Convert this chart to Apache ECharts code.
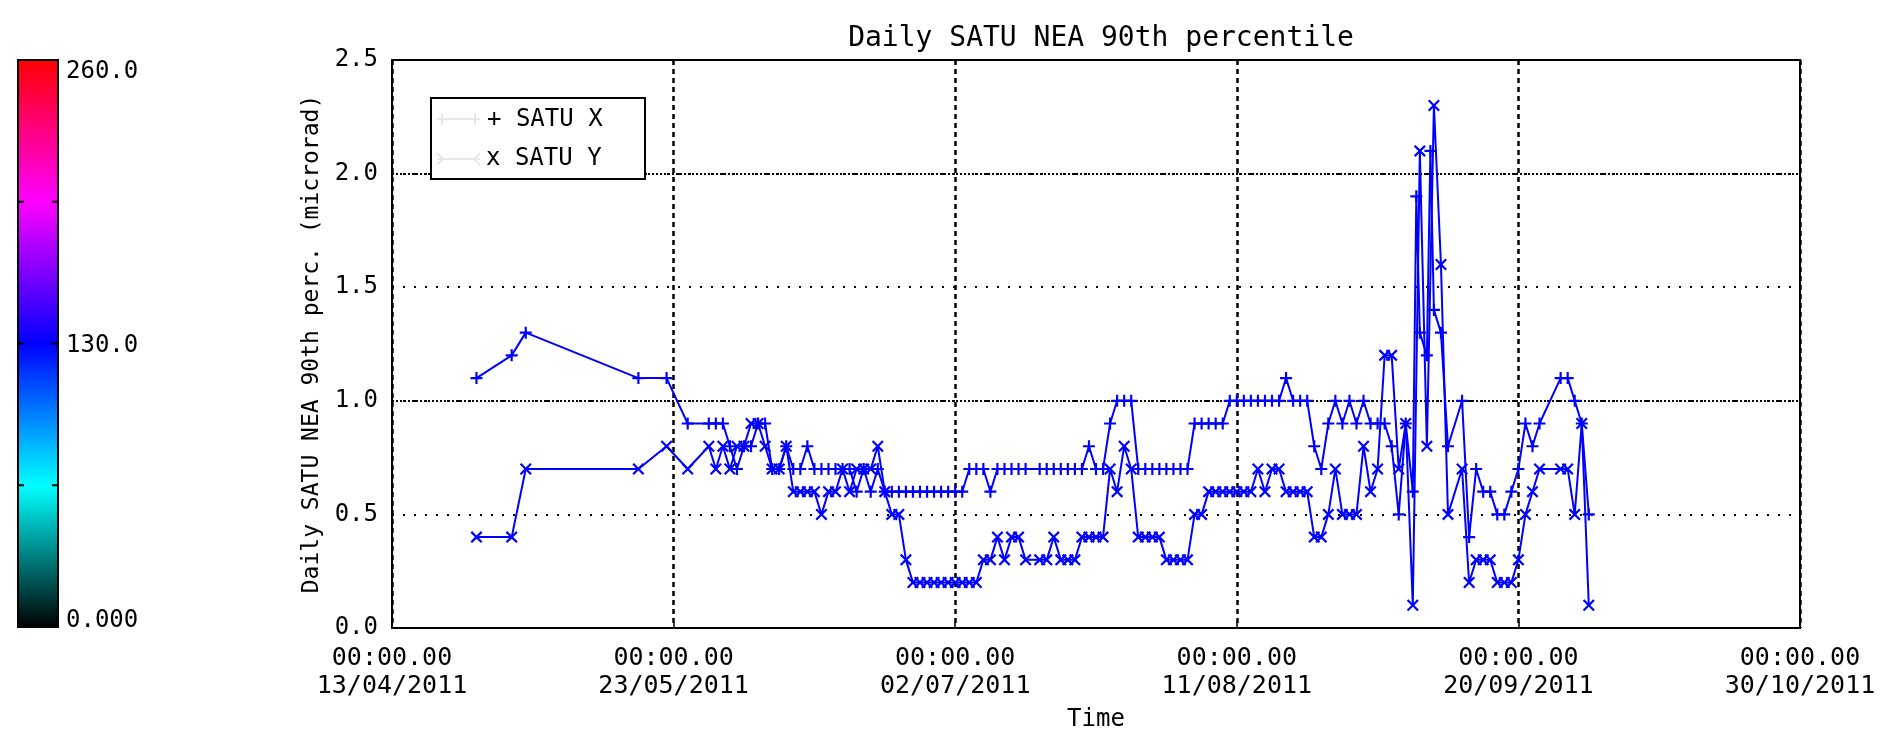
<!DOCTYPE html>
<html>
<head>
<meta charset="utf-8">
<title>Daily SATU NEA 90th percentile</title>
<script src="https://cdn.jsdelivr.net/npm/echarts@6/dist/echarts.min.js"></script>
<style>
  html, body { margin: 0; padding: 0; background: #ffffff; }
  #chart { width: 1891px; height: 738px; }
</style>
</head>
<body>
<div id="chart"></div>
<script>
// Sample dates (UTC). Half-day entries carry an explicit time.
const dates = [
  '2011-04-25', '2011-04-30',
  '2011-05-02', '2011-05-18', '2011-05-22', '2011-05-25', '2011-05-28', '2011-05-29', '2011-05-30', '2011-05-31',
  '2011-06-01', '2011-06-02', '2011-06-03', '2011-06-04', '2011-06-05', '2011-06-06', '2011-06-07', '2011-06-08',
  '2011-06-09', '2011-06-10', '2011-06-11', '2011-06-12', '2011-06-13', '2011-06-14', '2011-06-15', '2011-06-16',
  '2011-06-17', '2011-06-18', '2011-06-19', '2011-06-20', '2011-06-21', '2011-06-22', '2011-06-23', '2011-06-24',
  '2011-06-25', '2011-06-26', '2011-06-27', '2011-06-28', '2011-06-29', '2011-06-30',
  '2011-07-01', '2011-07-02', '2011-07-03', '2011-07-04', '2011-07-05', '2011-07-06', '2011-07-07', '2011-07-08',
  '2011-07-09', '2011-07-10', '2011-07-11', '2011-07-12', '2011-07-14', '2011-07-15', '2011-07-16', '2011-07-17',
  '2011-07-18', '2011-07-19', '2011-07-20', '2011-07-21', '2011-07-22', '2011-07-23', '2011-07-24', '2011-07-25',
  '2011-07-26', '2011-07-27', '2011-07-28', '2011-07-29', '2011-07-30', '2011-07-31',
  '2011-08-01', '2011-08-02', '2011-08-03', '2011-08-04', '2011-08-05', '2011-08-06', '2011-08-07', '2011-08-08',
  '2011-08-09', '2011-08-10', '2011-08-11', '2011-08-12', '2011-08-13', '2011-08-14', '2011-08-15', '2011-08-16',
  '2011-08-17', '2011-08-18', '2011-08-19', '2011-08-20', '2011-08-21', '2011-08-22', '2011-08-23', '2011-08-24',
  '2011-08-25', '2011-08-26', '2011-08-27', '2011-08-28', '2011-08-29', '2011-08-30', '2011-08-31',
  '2011-09-01', '2011-09-02', '2011-09-03', '2011-09-04', '2011-09-05', '2011-09-05T12:00:00Z', '2011-09-06',
  '2011-09-07', '2011-09-07T12:00:00Z', '2011-09-08', '2011-09-09', '2011-09-10', '2011-09-12', '2011-09-13',
  '2011-09-14', '2011-09-15', '2011-09-16', '2011-09-17', '2011-09-18', '2011-09-19', '2011-09-20', '2011-09-21',
  '2011-09-22', '2011-09-23', '2011-09-26', '2011-09-27', '2011-09-28', '2011-09-29', '2011-09-30'
];

// Daily 90th percentile of NEA, SATU X axis (microrad)
const satuX = [
  1.1, 1.2,
  1.3, 1.1, 1.1, 0.9, 0.9, 0.9, 0.9, 0.8,
  0.7, 0.8, 0.8, 0.9, 0.9, 0.7, 0.7, 0.8,
  0.7, 0.7, 0.8, 0.7, 0.7, 0.7, 0.7, 0.7,
  0.7, 0.6, 0.7, 0.6, 0.7, 0.6, 0.6, 0.6,
  0.6, 0.6, 0.6, 0.6, 0.6, 0.6,
  0.6, 0.6, 0.6, 0.7, 0.7, 0.7, 0.6, 0.7,
  0.7, 0.7, 0.7, 0.7, 0.7, 0.7, 0.7, 0.7,
  0.7, 0.7, 0.7, 0.8, 0.7, 0.7, 0.9, 1.0,
  1.0, 1.0, 0.7, 0.7, 0.7, 0.7,
  0.7, 0.7, 0.7, 0.7, 0.9, 0.9, 0.9, 0.9,
  0.9, 1.0, 1.0, 1.0, 1.0, 1.0, 1.0, 1.0,
  1.0, 1.1, 1.0, 1.0, 1.0, 0.8, 0.7, 0.9,
  1.0, 0.9, 1.0, 0.9, 1.0, 0.9, 0.9,
  0.9, 0.8, 0.5, 0.9, 0.6, 1.9, 1.3,
  1.2, 2.1, 1.4, 1.3, 0.8, 1.0, 0.4,
  0.7, 0.6, 0.6, 0.5, 0.5, 0.6, 0.7, 0.9,
  0.8, 0.9, 1.1, 1.1, 1.0, 0.9, 0.5
];

// Daily 90th percentile of NEA, SATU Y axis (microrad)
const satuY = [
  0.4, 0.4,
  0.7, 0.7, 0.8, 0.7, 0.8, 0.7, 0.8, 0.7,
  0.8, 0.8, 0.9, 0.9, 0.8, 0.7, 0.7, 0.8,
  0.6, 0.6, 0.6, 0.6, 0.5, 0.6, 0.6, 0.7,
  0.6, 0.7, 0.7, 0.7, 0.8, 0.6, 0.5, 0.5,
  0.3, 0.2, 0.2, 0.2, 0.2, 0.2,
  0.2, 0.2, 0.2, 0.2, 0.2, 0.3, 0.3, 0.4,
  0.3, 0.4, 0.4, 0.3, 0.3, 0.3, 0.4, 0.3,
  0.3, 0.3, 0.4, 0.4, 0.4, 0.4, 0.7, 0.6,
  0.8, 0.7, 0.4, 0.4, 0.4, 0.4,
  0.3, 0.3, 0.3, 0.3, 0.5, 0.5, 0.6, 0.6,
  0.6, 0.6, 0.6, 0.6, 0.6, 0.7, 0.6, 0.7,
  0.7, 0.6, 0.6, 0.6, 0.6, 0.4, 0.4, 0.5,
  0.7, 0.5, 0.5, 0.5, 0.8, 0.6, 0.7,
  1.2, 1.2, 0.7, 0.9, 0.1, null, 2.1,
  0.8, null, 2.3, 1.6, 0.5, 0.7, 0.2,
  0.3, 0.3, 0.3, 0.2, 0.2, 0.2, 0.3, 0.5,
  0.6, 0.7, 0.7, 0.7, 0.5, 0.9, 0.1
];

const seriesNames = ['SATU X', 'SATU Y'];
const axisStart = '2011-04-13';
const axisEnd = '2011-10-30';
const colorbarValues = [260, 130, 0];
const colorbarLabels = ['260.0', '130.0', '0.000'];

const FONT = '"DejaVu Sans Mono", "Liberation Mono", monospace';
const BLUE = '#0000ff';
const DAY_MS = 86400000;

function toUTC(s) { return Date.parse(s.length === 10 ? s + 'T00:00:00Z' : s); }
function dayOffset(s) { return (toUTC(s) - toUTC(axisStart)) / DAY_MS; }
function fmtDate(offset) {
  const d = new Date(toUTC(axisStart) + offset * DAY_MS);
  const p = n => String(n).padStart(2, '0');
  return p(d.getUTCDate()) + '/' + p(d.getUTCMonth() + 1) + '/' + d.getUTCFullYear();
}
function points(values) {
  return dates.map((s, i) => [dayOffset(s), values[i]]).filter(p => p[1] !== null);
}

// plotting symbols: "+" and "x" as filled outlines
const PLUS = 'path://M4.1,0H5.9V4.1H10V5.9H5.9V10H4.1V5.9H0V4.1H4.1Z';
const CROSS = 'path://M0,1.3L1.3,0L5,3.7L8.7,0L10,1.3L6.3,5L10,8.7L8.7,10L5,6.3L1.3,10L0,8.7L3.7,5Z';

// colour bar geometry
const cb = { x: 18, y: 60, w: 40, h: 567 };
const cbMax = colorbarValues[0];

const colorbarGraphics = [
  {
    type: 'rect',
    shape: { x: cb.x, y: cb.y, width: cb.w, height: cb.h },
    style: {
      fill: {
        type: 'linear', x: 0, y: 1, x2: 0, y2: 0,
        colorStops: [
          { offset: 0, color: '#000000' },
          { offset: 0.25, color: '#00ffff' },
          { offset: 0.5, color: '#0000ff' },
          { offset: 0.75, color: '#ff00ff' },
          { offset: 1, color: '#ff0000' }
        ]
      },
      stroke: '#000000',
      lineWidth: 2
    }
  }
];
[0.25, 0.5, 0.75].forEach(f => {
  const y = cb.y + cb.h * (1 - f);
  colorbarGraphics.push({ type: 'line', shape: { x1: cb.x, y1: y, x2: cb.x + 6, y2: y }, style: { stroke: '#000', lineWidth: 2 } });
  colorbarGraphics.push({ type: 'line', shape: { x1: cb.x + cb.w - 6, y1: y, x2: cb.x + cb.w, y2: y }, style: { stroke: '#000', lineWidth: 2 } });
});
colorbarValues.forEach((v, i) => {
  const f = v / cbMax;
  // end labels sit just inside the bar ends
  const shift = f === 1 ? 12 : (f === 0 ? -6 : 2);
  colorbarGraphics.push({
    type: 'text',
    style: {
      text: colorbarLabels[i],
      x: cb.x + cb.w + 8,
      y: cb.y + cb.h * (1 - f) + shift,
      align: 'left',
      verticalAlign: 'middle',
      font: '24px ' + FONT,
      fill: '#000'
    }
  });
});

// legend box
const lg = { x: 431, y: 98, w: 214, h: 81 };
const legendGraphics = [
  { type: 'rect', z: 100, shape: { x: lg.x, y: lg.y, width: lg.w, height: lg.h }, style: { fill: '#ffffff', stroke: '#000', lineWidth: 2 } },
  // faint line samples
  { type: 'line', z: 101, shape: { x1: 437, y1: 119, x2: 480, y2: 119 }, style: { stroke: '#e2e2e2', lineWidth: 1.5 } },
  { type: 'line', z: 101, shape: { x1: 442, y1: 113, x2: 442, y2: 125 }, style: { stroke: '#e2e2e2', lineWidth: 1.5 } },
  { type: 'line', z: 101, shape: { x1: 475, y1: 113, x2: 475, y2: 125 }, style: { stroke: '#e2e2e2', lineWidth: 1.5 } },
  { type: 'line', z: 101, shape: { x1: 437, y1: 159, x2: 480, y2: 159 }, style: { stroke: '#e2e2e2', lineWidth: 1.5 } },
  { type: 'polyline', z: 101, shape: { points: [[437, 153], [443, 159], [437, 165]] }, style: { stroke: '#e2e2e2', lineWidth: 1.5, fill: null } },
  { type: 'polyline', z: 101, shape: { points: [[480, 153], [474, 159], [480, 165]] }, style: { stroke: '#e2e2e2', lineWidth: 1.5, fill: null } },
  { type: 'text', z: 101, style: { text: '+ ' + seriesNames[0], x: 487, y: 120, align: 'left', verticalAlign: 'middle', font: '24px ' + FONT, fill: '#000' } },
  { type: 'text', z: 101, style: { text: 'x ' + seriesNames[1], x: 486, y: 159, align: 'left', verticalAlign: 'middle', font: '24px ' + FONT, fill: '#000' } }
];

const chart = echarts.init(document.getElementById('chart'), null, { renderer: 'canvas' });

chart.setOption({
  animation: false,
  backgroundColor: '#ffffff',
  title: {
    text: 'Daily SATU NEA 90th percentile',
    left: 1096,
    top: 20,
    textAlign: 'center',
    textStyle: { fontFamily: FONT, fontSize: 28, fontWeight: 'normal', color: '#000' }
  },
  grid: {
    left: 392, right: 91, top: 60, bottom: 110,
    show: true, borderColor: '#000', borderWidth: 2, backgroundColor: 'transparent'
  },
  xAxis: {
    type: 'value',
    min: 0,
    max: dayOffset(axisEnd),
    interval: 40,
    name: 'Time',
    nameLocation: 'middle',
    nameGap: 80,
    nameTextStyle: { fontFamily: FONT, fontSize: 24, color: '#000' },
    axisLine: { show: true, lineStyle: { color: '#000', width: 2 } },
    axisTick: { show: true, inside: true, length: 6, lineStyle: { color: '#000', width: 1.5 } },
    axisLabel: {
      formatter: v => '00:00.00\n' + fmtDate(v),
      fontFamily: FONT, fontSize: 25, color: '#000', lineHeight: 28, margin: 16,
      showMinLabel: true, showMaxLabel: true
    },
    splitLine: { show: true, lineStyle: { color: '#000', width: 2.5, type: [5, 4] } }
  },
  yAxis: [
    {
      type: 'value',
      min: 0, max: 2.5, interval: 0.5,
      name: 'Daily SATU NEA 90th perc. (microrad)',
      nameLocation: 'middle',
      nameGap: 68,
      nameTextStyle: { fontFamily: FONT, fontSize: 23, color: '#000' },
      axisLine: { show: true, lineStyle: { color: '#000', width: 2 } },
      axisTick: { show: false },
      axisLabel: { formatter: v => v.toFixed(1), fontFamily: FONT, fontSize: 24, color: '#000', margin: 14 },
      splitLine: { show: true, lineStyle: { color: '#000', width: 2, type: [2, 9] } }
    },
    {
      type: 'value',
      min: 0, max: 2.5, interval: 1,
      position: 'left',
      axisLine: { show: false },
      axisTick: { show: false },
      axisLabel: { show: false },
      splitLine: { show: true, lineStyle: { color: '#000', width: 2, type: [2, 2] } }
    }
  ],
  series: [
    {
      name: seriesNames[0],
      type: 'line',
      data: points(satuX),
      symbol: PLUS,
      symbolSize: 12,
      showAllSymbol: true,
      lineStyle: { color: BLUE, width: 2 },
      itemStyle: { color: BLUE },
      z: 3
    },
    {
      name: seriesNames[1],
      type: 'line',
      data: points(satuY),
      symbol: CROSS,
      symbolSize: 12,
      showAllSymbol: true,
      lineStyle: { color: BLUE, width: 2 },
      itemStyle: { color: BLUE },
      z: 3
    }
  ],
  graphic: colorbarGraphics.concat(legendGraphics)
});
</script>
</body>
</html>
